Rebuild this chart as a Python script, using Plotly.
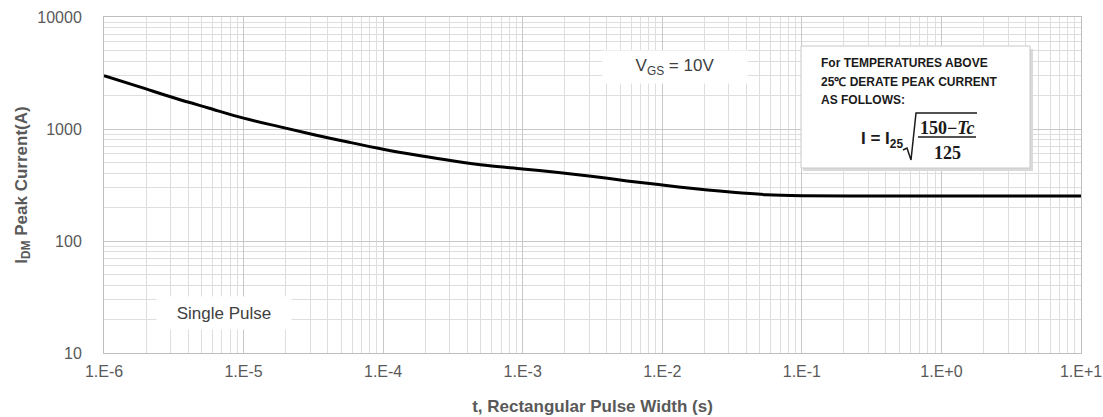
import plotly.graph_objects as go

# ---- data ----
pulse_width_s = [1e-6, 1.8e-6, 3.2e-6, 5.6e-6,
                 1e-5, 1.8e-5, 3.2e-5, 5.6e-5,
                 1e-4, 1.8e-4, 3.2e-4, 5.6e-4,
                 1e-3, 1.8e-3, 3.2e-3, 5.6e-3,
                 1e-2, 1.8e-2, 3.2e-2, 5.6e-2,
                 1e-1, 0.3, 1.0, 3.0, 10.0]
peak_current_a = [3000, 2380, 1890, 1540,
                  1250, 1050, 890, 765,
                  660, 580, 518, 472,
                  440, 409, 377, 344,
                  316, 291, 272, 259,
                  254, 252, 252, 252, 252]

x_tickvals = [1e-6, 1e-5, 1e-4, 1e-3, 1e-2, 1e-1, 1e0, 1e1]
x_ticktext = ["1.E-6", "1.E-5", "1.E-4", "1.E-3", "1.E-2", "1.E-1", "1.E+0", "1.E+1"]
y_tickvals = [10, 100, 1000, 10000]
y_ticktext = ["10", "100", "1000", "10000"]

# ---- layout geometry (pixels) ----
W, H = 1103, 417
L, R, T, B = 104, 22, 17, 64
PW, PH = W - L - R, H - T - B


def px(x):
    return (x - L) / PW


def py(y):
    return (H - B - y) / PH


fig = go.Figure()
fig.add_trace(go.Scatter(
    x=pulse_width_s, y=peak_current_a, mode="lines",
    line=dict(color="black", width=3, shape="spline", smoothing=1.0),
    hoverinfo="skip", showlegend=False,
))

FONT = "Liberation Sans, Arial"
tick_font = dict(family=FONT, size=16, color="#595959")
grid_major = "#c8c8c8"
grid_minor = "#dedede"

fig.update_xaxes(
    type="log", range=[-6, 1], automargin=False,
    tickvals=x_tickvals, ticktext=x_ticktext, tickfont=tick_font,
    showgrid=True, gridcolor=grid_major, gridwidth=1,
    minor=dict(dtick="D1", showgrid=True, gridcolor=grid_minor, gridwidth=1, ticks=""),
    showline=True, linecolor="#bfbfbf", linewidth=1, mirror=True,
    ticks="", ticklabelstandoff=4, zeroline=False,
    title=dict(text="<b>t, Rectangular Pulse Width (s)</b>",
               font=dict(family=FONT, size=17, color="#595959"),
               standoff=20),
)
fig.update_yaxes(
    type="log", range=[1, 4], automargin=False,
    tickvals=y_tickvals, ticktext=y_ticktext, tickfont=tick_font,
    showgrid=True, gridcolor=grid_major, gridwidth=1,
    minor=dict(dtick="D1", showgrid=True, gridcolor=grid_minor, gridwidth=1, ticks=""),
    showline=True, linecolor="#bfbfbf", linewidth=1, mirror=True,
    ticks="", ticklabelstandoff=18, zeroline=False,
    title=dict(text="<b>I<sub>DM</sub> Peak Current(A)</b>",
               font=dict(family=FONT, size=17, color="#595959"),
               standoff=5),
)

shapes = []
annotations = []

# V_GS label with white background
annotations.append(dict(
    x=px(675), y=py(67), xref="paper", yref="paper", showarrow=False,
    text="V<sub>GS</sub> = 10V", bgcolor="white", borderpad=4,
    width=136, height=24,
    font=dict(family=FONT, size=17, color="#404040"),
    xanchor="center", yanchor="middle",
))
# Single Pulse label
annotations.append(dict(
    x=px(224), y=py(313), xref="paper", yref="paper", showarrow=False,
    text="Single Pulse", bgcolor="white", borderpad=4,
    width=126, height=24,
    font=dict(family=FONT, size=17, color="#404040"),
    xanchor="center", yanchor="middle",
))

# derating box (shadow + box)
shapes.append(dict(type="rect", xref="paper", yref="paper",
                   x0=px(803), x1=px(1033), y0=py(171), y1=py(49),
                   fillcolor="#dadada", line=dict(width=0), layer="above"))
shapes.append(dict(type="rect", xref="paper", yref="paper",
                   x0=px(801), x1=px(1030), y0=py(168), y1=py(46),
                   fillcolor="white", line=dict(color="#c8c8c8", width=1), layer="above"))

box_font = dict(family=FONT, size=12, color="#1a1a1a")
for txt, yy in [("<b>For TEMPERATURES ABOVE</b>", 63),
                ("<b>25℃ DERATE PEAK CURRENT</b>", 82),
                ("<b>AS FOLLOWS:</b>", 100)]:
    annotations.append(dict(x=px(819), y=py(yy), xref="paper", yref="paper",
                            showarrow=False, text=txt, font=box_font,
                            xanchor="left", yanchor="middle"))

annotations.append(dict(x=px(905), y=py(140), xref="paper", yref="paper",
                        showarrow=False, text="<b>I = I<sub>25</sub></b>",
                        font=dict(family=FONT, size=17, color="#1a1a1a"),
                        xanchor="right", yanchor="middle"))
serif = dict(family="Liberation Serif, DejaVu Serif", size=18, color="#1a1a1a")
annotations.append(dict(x=px(947), y=py(128), xref="paper", yref="paper",
                        showarrow=False, text="<b>150−<i>Tc</i></b>", font=serif,
                        xanchor="center", yanchor="middle"))
annotations.append(dict(x=px(947), y=py(153), xref="paper", yref="paper",
                        showarrow=False, text="<b>125</b>", font=serif,
                        xanchor="center", yanchor="middle"))
# fraction bar
shapes.append(dict(type="line", xref="paper", yref="paper",
                   x0=px(918), x1=px(976), y0=py(137), y1=py(137),
                   line=dict(color="#1a1a1a", width=1.5), layer="above"))
# radical sign
rad = [(903, 150), (907, 148), (911, 160), (916, 113), (977, 113)]
path = "M " + " L ".join(f"{px(a):.5f},{py(b):.5f}" for a, b in rad)
shapes.append(dict(type="path", xref="paper", yref="paper", path=path,
                   line=dict(color="#1a1a1a", width=1.5), layer="above"))

fig.update_layout(
    width=W, height=H,
    margin=dict(l=L, r=R, t=T, b=B, autoexpand=False),
    paper_bgcolor="white", plot_bgcolor="white",
    shapes=shapes, annotations=annotations,
    showlegend=False,
)

fig.write_html("out.html")
